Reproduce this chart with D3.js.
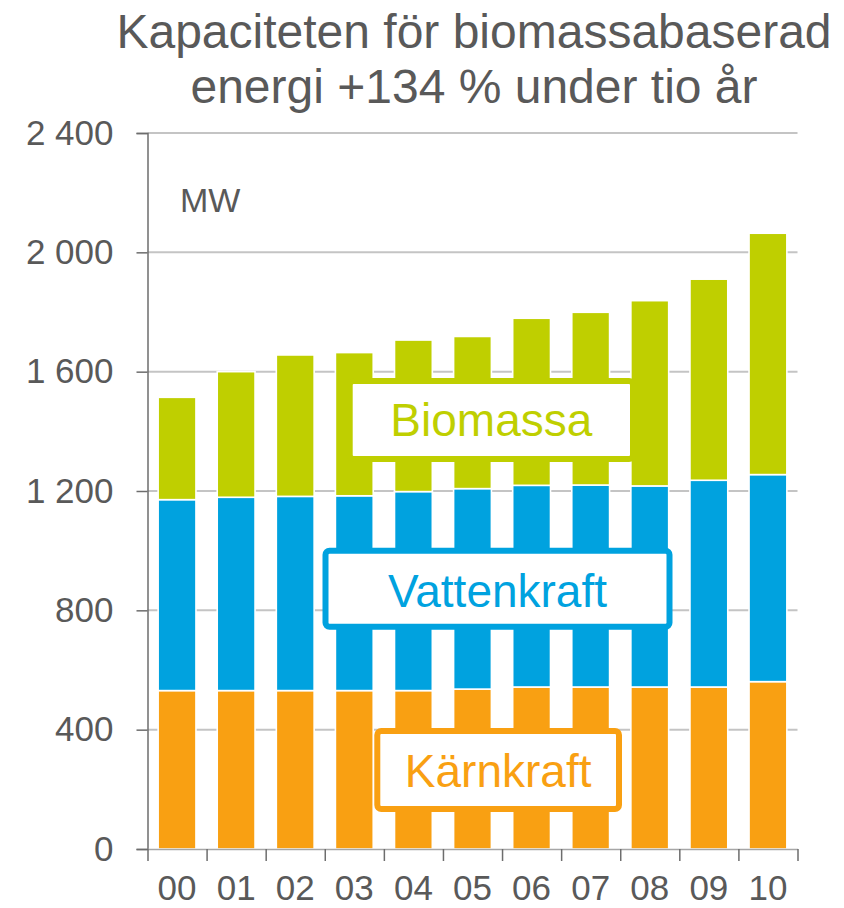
<html>
    <head>
        <title>Kapaciteten för biomassabaserad energi</title>
        <style type="text/css">
            body{
                padding: 0px;
                margin: 0px;
                background: #fff;
            }
            svg{
                width: 844px;
                height: 908px;
                font-family: "Liberation Sans", Arial, sans-serif;
            }
            .axis path, .axis line{
                stroke: #6d6d6d;
                stroke-width: 1.5px;
            }
            .axis text{
                fill: #595959;
                font-size: 35px;
            }
        </style>
        <script src="https://d3js.org/d3.v7.min.js"></script>
        <script type="text/javascript">
            // years, 2000-2010
            years = ["00","01","02","03","04","05","06","07","08","09","10"];
            // MW per type
            karnkraft = [531, 531, 531, 531, 531, 536, 543, 543, 543, 543, 561];
            vattenkraft = [640, 648, 651, 653, 667, 672, 676, 677, 674, 693, 694];
            biomassa = [343, 421, 474, 480, 508, 510, 560, 579, 621, 674, 809];
            yTicks = [0, 400, 800, 1200, 1600, 2000, 2400];
            seriesNames = ["Kärnkraft", "Vattenkraft", "Biomassa"];
            seriesColors = ["#f9a012", "#00a2df", "#bfcf00"];
            titleLines = ["Kapaciteten för biomassabaserad", "energi +134 % under tio år"];

            window.onload = function()
            {
                svg = d3.select("body").append("svg");

                x = d3.scaleBand().domain(years).range([147.5, 797.5]).paddingInner(0.36).paddingOuter(0.18);
                y = d3.scaleLinear().domain([0, 2400]).range([849, 133]);
                nf = d3.formatLocale({decimal: ",", thousands: " ", grouping: [3], currency: ["", " kr"]}).format(",");

                // title
                svg.append("text").attr("x", 474).attr("y", 48).attr("text-anchor", "middle")
                    .style("font-size", "48px").style("fill", "#595959")
                    .selectAll("tspan").data(titleLines).enter().append("tspan")
                    .attr("x", 474).attr("dy", function(d, i){ return i == 0 ? 0 : 55; })
                    .text(function(d){ return d; });

                // gridlines
                svg.append("g").selectAll("line").data(yTicks.slice(1)).enter().append("line")
                    .attr("x1", 147.5).attr("x2", 797.5)
                    .attr("y1", function(d){ return y(d); }).attr("y2", function(d){ return y(d); })
                    .style("stroke", "#c4c4c4").style("stroke-width", "2px");

                // stacked bars
                rows = years.map(function(yr, i){
                    return {year: yr, "Kärnkraft": karnkraft[i], "Vattenkraft": vattenkraft[i], "Biomassa": biomassa[i]};
                });
                stacked = d3.stack().keys(seriesNames)(rows);

                svg.append("g").selectAll("g").data(stacked).enter().append("g")
                    .style("fill", function(d, i){ return seriesColors[i]; })
                    .selectAll("rect").data(function(d){ return d; }).enter().append("rect")
                    .attr("x", function(d){ return x(d.data.year); })
                    .attr("width", x.bandwidth())
                    .attr("y", function(d){ return y(d[1]); })
                    .attr("height", function(d){ return y(d[0]) - y(d[1]); })
                    .style("stroke", "#fff").style("stroke-width", "1.6px");

                // y axis
                yAxis = svg.append("g").attr("class", "axis").attr("transform", "translate(147.5,0)")
                    .call(d3.axisLeft(y).tickValues(yTicks).tickFormat(nf).tickSize(11).tickPadding(23));

                // x axis: labels at band centres, ticks at band edges
                xAxis = svg.append("g").attr("class", "axis").attr("transform", "translate(0,849)")
                    .call(d3.axisBottom(x).tickSize(0).tickPadding(26));
                xAxis.select(".domain").remove();
                edges = d3.scaleLinear().domain([0, years.length]).range([147.5, 797.5]);
                svg.append("g").attr("class", "axis").attr("transform", "translate(0,849)")
                    .call(d3.axisBottom(edges).ticks(years.length).tickFormat("").tickSize(12).tickSizeOuter(0))
                    .select(".domain").style("stroke", "#a6a6a6");

                // unit
                svg.append("text").attr("x", 180).attr("y", 212).text("MW")
                    .style("font-size", "34px").style("fill", "#595959");

                // labels in boxes
                boxes = [
                    {name: "Biomassa", x1: 349.7, x2: 633, y1: 381, y2: 459, ty: 436},
                    {name: "Vattenkraft", x1: 325.5, x2: 669.5, y1: 550.7, y2: 626.7, ty: 607},
                    {name: "Kärnkraft", x1: 377.3, x2: 619, y1: 731, y2: 809, ty: 787}
                ];
                lab = svg.append("g").selectAll("g").data(boxes).enter().append("g");
                lab.append("rect")
                    .attr("x", function(d){ return d.x1; }).attr("y", function(d){ return d.y1; })
                    .attr("width", function(d){ return d.x2 - d.x1; }).attr("height", function(d){ return d.y2 - d.y1; })
                    .attr("rx", 4)
                    .style("fill", "#fff")
                    .style("stroke", function(d){ return seriesColors[seriesNames.indexOf(d.name)]; })
                    .style("stroke-width", "6px");
                lab.append("text")
                    .attr("x", function(d){ return (d.x1 + d.x2) / 2; }).attr("y", function(d){ return d.ty; })
                    .attr("text-anchor", "middle")
                    .style("font-size", "46px")
                    .style("fill", function(d){ return seriesColors[seriesNames.indexOf(d.name)]; })
                    .text(function(d){ return d.name; });
            }
        </script>
    </head>
    <body>
    </body>
</html>
